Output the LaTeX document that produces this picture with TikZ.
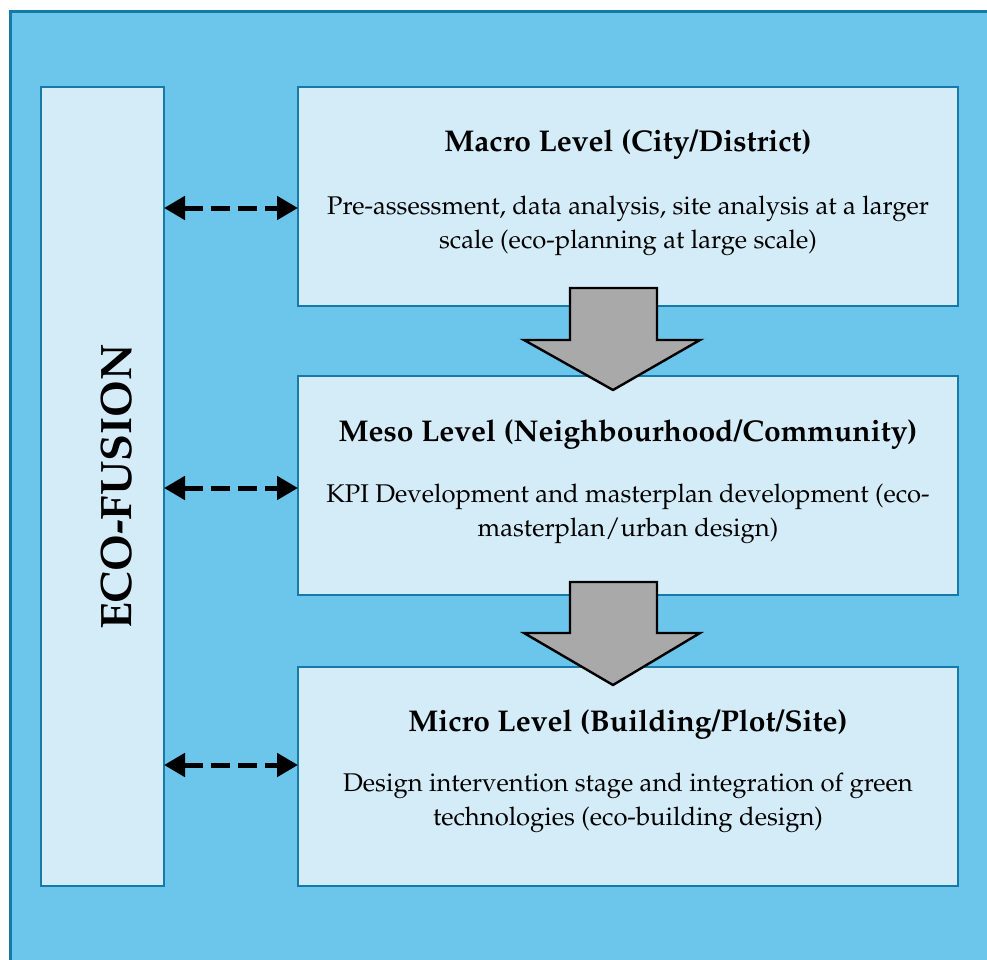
\documentclass[tikz,border=0pt]{standalone}
\usepackage[T1]{fontenc}
\usepackage{mathpazo}
\usetikzlibrary{arrows.meta}
\definecolor{outerfill}{HTML}{6CC5EA}
\definecolor{innerfill}{HTML}{D4ECF8}
\definecolor{edgeblue}{HTML}{1679A7}
\definecolor{blockgray}{HTML}{A9A9A9}
\tikzset{
  panel/.style={draw=edgeblue, line width=2.8pt, fill=innerfill},
  titletext/.style={font=\fontsize{30}{36}\selectfont\bfseries, inner sep=0pt},
  bodytext/.style={font=\fontsize{25.6}{34}\selectfont, align=center, inner sep=0pt},
  link/.style={line width=5pt, dash pattern=on 19pt off 8pt, {Triangle[length=21pt,width=23pt]}-{Triangle[length=21pt,width=23pt]}, shorten <=0pt, shorten >=0pt},
  blockarrow/.style={draw=black, line width=2.4pt, fill=blockgray, line join=miter}
}
\begin{document}
\begin{tikzpicture}[x=1pt,y=-1pt]
\useasboundingbox (0,0) rectangle (987,960);
\clip (0,0) rectangle (987,960);
\fill[white] (0,0) rectangle (987,960);
\draw[draw=edgeblue, line width=3pt, fill=outerfill] (10,12) rectangle (1010,1000);
% left panel
\draw[panel] (41,87) rectangle (164,886);
\node[rotate=90, font=\fontsize{44}{50}\selectfont\bfseries, inner sep=0pt] (eco) at (116,487) {ECO-FUSION};
\coordinate (L1) at (164,208);
\coordinate (L2) at (164,488);
\coordinate (L3) at (164,765);
% right panels
\draw[panel] (298,87) rectangle (958,306);
\draw[panel] (298,376) rectangle (958,595);
\draw[panel] (298,667) rectangle (958,886);
\coordinate (R1) at (298,208);
\coordinate (R2) at (298,488);
\coordinate (R3) at (298,765);
\node[titletext] (t1) at (628,145) {Macro Level (City/District)};
\node[bodytext] (b1) at (628,226) {Pre-assessment, data analysis, site analysis at a larger\\scale (eco-planning at large scale)};
\node[titletext] (t2) at (628,434) {Meso Level (Neighbourhood/Community)};
\node[bodytext] (b2) at (628,514) {KPI Development and masterplan development (eco-\\masterplan/urban design)};
\node[titletext] (t3) at (628,724) {Micro Level (Building/Plot/Site)};
\node[bodytext] (b3) at (628,803) {Design intervention stage and integration of green\\technologies (eco-building design)};
% dashed double arrows
\draw[link] (L1) -- (R1);
\draw[link] (L2) -- (R2);
\draw[link] (L3) -- (R3);
% block arrows
\draw[blockarrow] (570,288) -- (657,288) -- (657,340) -- (700,340) -- (613,390) -- (524,340) -- (570,340) -- cycle;
\draw[blockarrow] (570,582) -- (657,582) -- (657,633) -- (700,633) -- (613,685) -- (524,633) -- (570,633) -- cycle;
\end{tikzpicture}
\end{document}
